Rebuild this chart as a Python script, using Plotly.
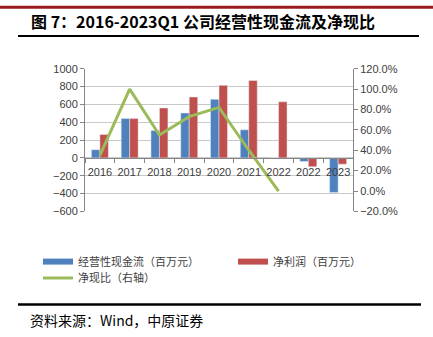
import plotly.graph_objects as go

# Reporting periods and their axis labels
periods = ["2016", "2017", "2018", "2019", "2020", "2021", "2022", "2022Q1", "2023Q1"]
period_labels = ["2016", "2017", "2018", "2019", "2020", "2021", "2022", "2022", "2023"]

# 经营性现金流 and 净利润, 百万元
operating_cf = [92, 441, 308, 503, 657, 315, 0, -41, -387]
net_profit = [262, 441, 560, 683, 813, 867, 629, -99, -70]

# 净现比 (right axis), annual periods only
cash_ratio = [0.35, 1.00, 0.55, 0.73, 0.82, 0.40, 0.00, None, None]

W, H = 433, 337
BLUE, RED, GREEN = "#4F81BD", "#C0504D", "#9BBB59"
TXT = "#404040"
AX = "#868686"
CJK = "Noto Sans CJK SC"
LAT = "Liberation Sans, Arial"

y_range = [-600, 1000]
x_dom = [85 / W, 353 / W]
y_dom = [1 - 213 / H, 1 - 65 / H]
# x axis sits on the zero line of the left axis
zero_pos = y_dom[0] + (0 - y_range[0]) / (y_range[1] - y_range[0]) * (y_dom[1] - y_dom[0])

fig = go.Figure()
fig.add_trace(go.Bar(x=periods, y=operating_cf, marker_color=BLUE, showlegend=False))
fig.add_trace(go.Bar(x=periods, y=net_profit, marker_color=RED, showlegend=False))
fig.add_trace(go.Scatter(x=periods, y=cash_ratio, yaxis="y2", mode="lines",
                         line=dict(color=GREEN, width=3), showlegend=False))

# legend entries with flat swatches
for name, col, w, lg in [("经营性现金流（百万元）", BLUE, 6, "legend"),
                         ("净利润（百万元）", RED, 6, "legend"),
                         ("净现比（右轴）", GREEN, 3, "legend2")]:
    fig.add_trace(go.Scatter(x=[None], y=[None], mode="lines", name=name, legend=lg,
                             line=dict(color=col, width=w)))

legend_font = dict(family=CJK, size=11, color=TXT)

fig.update_layout(
    width=W, height=H,
    margin=dict(l=0, r=0, t=0, b=0),
    paper_bgcolor="white", plot_bgcolor="white",
    barmode="group", bargap=0.43, bargroupgap=0,
    font=dict(family=LAT, size=11, color=TXT),
    xaxis=dict(domain=x_dom, anchor="free", position=zero_pos,
               type="category", categoryorder="array", categoryarray=periods,
               tickmode="array", tickvals=periods, ticktext=period_labels, tickangle=0,
               tickson="boundaries", ticks="outside", ticklen=4, tickcolor=AX,
               ticklabelstandoff=4,
               showline=True, linecolor=AX, linewidth=1, showgrid=False,
               tickfont=dict(family=LAT, size=11, color=TXT)),
    yaxis=dict(domain=y_dom, range=y_range, dtick=200, showgrid=True,
               gridcolor="#C8C8C8", gridwidth=1, zeroline=False,
               showline=True, linecolor=AX, ticks="outside", ticklen=4, tickcolor=AX,
               tickfont=dict(family=LAT, size=11, color=TXT)),
    yaxis2=dict(overlaying="y", side="right", anchor="x", range=[-0.2, 1.2], dtick=0.2,
                tickformat=".1%", showgrid=False, zeroline=False,
                showline=True, linecolor=AX, ticks="outside", ticklen=4, tickcolor=AX,
                tickfont=dict(family=LAT, size=11, color=TXT)),
    legend=dict(orientation="h", x=38 / W, xanchor="left", y=1 - 250 / H, yanchor="top",
                entrywidth=150, itemwidth=30, tracegroupgap=0,
                font=legend_font, bgcolor="rgba(0,0,0,0)"),
    legend2=dict(orientation="h", x=38 / W, xanchor="left", y=1 - 267 / H, yanchor="top",
                 itemwidth=30, font=legend_font, bgcolor="rgba(0,0,0,0)"),
    shapes=[
        dict(type="line", xref="paper", yref="paper", x0=0, x1=1, y0=1 - 1.3 / H, y1=1 - 1.3 / H,
             line=dict(color="#9B1B1F", width=3)),
        dict(type="line", xref="paper", yref="paper", x0=18 / W, x1=419 / W, y0=1 - 31 / H, y1=1 - 31 / H,
             line=dict(color="black", width=2)),
        dict(type="line", xref="paper", yref="paper", x0=18 / W, x1=421 / W, y0=1 - 309.5 / H, y1=1 - 309.5 / H,
             line=dict(color="black", width=2.5)),
    ],
    annotations=[
        dict(text="<b>图 7：2016-2023Q1 公司经营性现金流及净现比</b>", xref="paper", yref="paper",
             x=29 / W, y=1 - 15.5 / H, xanchor="left", yanchor="middle", showarrow=False,
             font=dict(family=CJK, size=16, color="black")),
        dict(text="资料来源：Wind，中原证券", xref="paper", yref="paper",
             x=28 / W, y=1 - 326 / H, xanchor="left", yanchor="middle", showarrow=False,
             font=dict(family=CJK, size=14, color="black")),
    ],
)

fig.write_html("out.html")
